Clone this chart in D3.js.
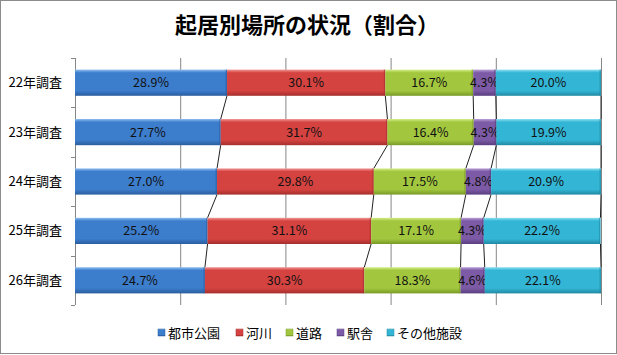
<!DOCTYPE html>
<html><head><meta charset="utf-8">
<script src="https://cdn.jsdelivr.net/npm/d3@7"></script>
<style>body{margin:0;background:#fff}svg{display:block}text{font-family:"Noto Sans CJK JP","Noto Sans",sans-serif}</style>
</head><body><svg id="c" width="617" height="355"></svg>
<script>
const title = "起居別場所の状況（割合）";
const categories = ["22年調査","23年調査","24年調査","25年調査","26年調査"];
const seriesNames = ["都市公園","河川","道路","駅舎","その他施設"];
const toshiKoen = [28.9,27.7,27.0,25.2,24.7];
const kasen = [30.1,31.7,29.8,31.1,30.3];
const doro = [16.7,16.4,17.5,17.1,18.3];
const ekisha = [4.3,4.3,4.8,4.3,4.6];
const sonota = [20.0,19.9,20.9,22.2,22.1];
const xTicks = [0,20,40,60,80,100];
const colors = ["#3c7dcc","#d54341","#a2c73f","#7c5aa5","#33b6d5"];
const lights = ["#8fbef0","#f09896","#d5ee8a","#b9a0d8","#8ee0f2"];
const darks = ["#2a5d9e","#a52e2c","#789a26","#5a3e80","#2189a3"];

const values = [toshiKoen,kasen,doro,ekisha,sonota];
const svg = d3.select("#c");
const defs = svg.append("defs");
colors.forEach((c,i)=>{
  const g = defs.append("linearGradient").attr("id","g"+i).attr("x1",0).attr("y1",0).attr("x2",0).attr("y2",1);
  g.append("stop").attr("offset",0).attr("stop-color",lights[i]);
  g.append("stop").attr("offset",0.12).attr("stop-color",c);
  g.append("stop").attr("offset",0.8).attr("stop-color",c);
  g.append("stop").attr("offset",1).attr("stop-color",darks[i]);
});
svg.append("rect").attr("x",0.5).attr("y",0.5).attr("width",616).attr("height",353).attr("fill","#fff").attr("stroke","#8c8c8c");

svg.append("text").attr("x",307).attr("y",33).attr("text-anchor","middle").attr("font-size",22).attr("font-weight","bold").text(title);

const x = d3.scaleLinear().domain([0,100]).range([75,601]);
const y = d3.scaleBand().domain(categories).range([58,305]).paddingInner(0.47).paddingOuter(0.235);

// gridlines
svg.append("g").selectAll("line").data(xTicks.slice(1)).join("line")
  .attr("x1",d=>x(d)+0.5).attr("x2",d=>x(d)+0.5).attr("y1",58).attr("y2",305)
  .attr("stroke","#868686");
// y axis
svg.append("line").attr("x1",75.5).attr("x2",75.5).attr("y1",58).attr("y2",305).attr("stroke","#868686");
const bounds = d3.range(categories.length+1).map(i=>58+i*(247/categories.length));
svg.append("g").selectAll("line").data(bounds).join("line")
  .attr("x1",71).attr("x2",75).attr("y1",d=>Math.round(d)+0.5).attr("y2",d=>Math.round(d)+0.5).attr("stroke","#868686");
svg.append("g").selectAll("text").data(categories).join("text")
  .attr("x",62).attr("y",c=>y(c)+y.bandwidth()/2).attr("dy","0.35em")
  .attr("text-anchor","end").attr("font-size",13).attr("fill","#000").text(c=>c);

// stacked data
const rows = categories.map((c,ci)=>{
  let acc=0; const segs=[];
  values.forEach((arr,si)=>{segs.push({c,si,v:arr[ci],x0:acc,x1:acc+arr[ci]}); acc+=arr[ci];});
  return segs;
});

// series lines
const sl = svg.append("g");
for(let ci=0; ci<categories.length-1; ci++){
  rows[ci].forEach((s,si)=>{
    const n = rows[ci+1][si];
    sl.append("line").attr("x1",x(Math.min(s.x1,100))).attr("y1",y(categories[ci])+y.bandwidth())
      .attr("x2",x(Math.min(n.x1,100))).attr("y2",y(categories[ci+1])).attr("stroke","#222").attr("stroke-width",1);
  });
}

const bars = svg.append("g");
rows.forEach(segs=>{
  segs.forEach(s=>{
    const x0 = x(s.x0), x1 = x(Math.min(s.x1,100));
    bars.append("rect").attr("x",x0).attr("y",y(s.c)).attr("width",x1-x0).attr("height",y.bandwidth())
      .attr("fill","url(#g"+s.si+")");
    bars.append("rect").attr("x",x1-1.5).attr("y",y(s.c)).attr("width",1.5).attr("height",y.bandwidth())
      .attr("fill",darks[s.si]).attr("opacity",0.6);
    bars.append("text").attr("x",(x0+x1)/2).attr("y",y(s.c)+y.bandwidth()/2).attr("dy","0.36em")
      .attr("text-anchor","middle").attr("font-size",12.5).attr("fill","#111").text(s.v.toFixed(1)+"%");
  });
});

// legend
const legX = [158,236,286,337,387];
const lg = svg.append("g");
seriesNames.forEach((n,i)=>{
  lg.append("rect").attr("x",legX[i]).attr("y",329).attr("width",7).attr("height",7).attr("fill","url(#g"+i+")").attr("stroke",darks[i]).attr("stroke-width",0.5);
  lg.append("text").attr("x",legX[i]+10).attr("y",333).attr("dy","0.36em").attr("font-size",13).attr("fill","#000").text(n);
});
</script></body></html>
